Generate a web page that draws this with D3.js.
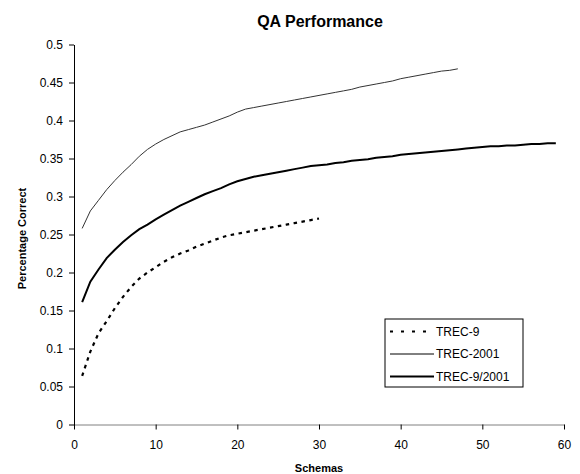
<!DOCTYPE html>
<html>
<head>
<meta charset="utf-8">
<script src="https://cdn.jsdelivr.net/npm/d3@7"></script>
<style>
  body { margin: 0; background: #fff; }
  svg { font-family: "Liberation Sans", Arial, sans-serif; }
  .tick text { font-size: 12px; fill: #000; }
</style>
</head>
<body>
<svg id="chart"></svg>
<script>
// values, one point per schema count (1..n)
const trec9 = [0.064, 0.096, 0.120, 0.136, 0.153, 0.168, 0.181, 0.192, 0.200, 0.207,
  0.214, 0.220, 0.225, 0.229, 0.234, 0.238, 0.242, 0.246, 0.249, 0.251,
  0.253, 0.255, 0.257, 0.259, 0.261, 0.263, 0.265, 0.267, 0.269, 0.271]

const trec2001 = [0.258, 0.281, 0.295, 0.309, 0.321, 0.332, 0.342, 0.353, 0.362, 0.369,
  0.375, 0.380, 0.385, 0.388, 0.391, 0.394, 0.398, 0.402, 0.406, 0.411,
  0.415, 0.417, 0.419, 0.421, 0.423, 0.425, 0.427, 0.429, 0.431, 0.433,
  0.435, 0.437, 0.439, 0.441, 0.444, 0.446, 0.448, 0.450, 0.452, 0.455,
  0.457, 0.459, 0.461, 0.463, 0.465, 0.466, 0.468]

const trec92001 = [0.161, 0.188, 0.204, 0.219, 0.230, 0.240, 0.249, 0.257, 0.263, 0.270,
  0.276, 0.282, 0.288, 0.293, 0.298, 0.303, 0.307, 0.311, 0.316, 0.320,
  0.323, 0.326, 0.328, 0.330, 0.332, 0.334, 0.336, 0.338, 0.340, 0.341,
  0.342, 0.344, 0.345, 0.347, 0.348, 0.349, 0.351, 0.352, 0.353, 0.355,
  0.356, 0.357, 0.358, 0.359, 0.360, 0.361, 0.362, 0.363, 0.364, 0.365,
  0.366, 0.366, 0.367, 0.367, 0.368, 0.369, 0.369, 0.370, 0.370]

const seriesNames = ['TREC-9', 'TREC-2001', 'TREC-9/2001']
const xTicks = [0, 10, 20, 30, 40, 50, 60]
const yTicks = [0, 0.05, 0.1, 0.15, 0.2, 0.25, 0.3, 0.35, 0.4, 0.45, 0.5]

const width = 580, height = 474
const margin = {top: 44.5, right: 16, bottom: 49.5, left: 74}
const w = width - margin.left - margin.right
const h = height - margin.top - margin.bottom

const svg = d3.select('#chart')
  .attr('width', width)
  .attr('height', height)

const g = svg.append('g')
  .attr('transform', `translate(${margin.left},${margin.top})`)

const x = d3.scaleLinear().domain([0, 60]).range([0, w])
const y = d3.scaleLinear().domain([0, 0.5]).range([h, 0])

// axes
const xAxisG = g.append('g')
  .attr('transform', `translate(0,${h})`)
  .call(d3.axisBottom(x).tickValues(xTicks).tickSize(5).tickSizeOuter(0).tickPadding(11))
xAxisG.select('.domain').attr('stroke', '#808080')
xAxisG.selectAll('.tick line').attr('stroke', '#000')

const yAxisG = g.append('g')
  .call(d3.axisLeft(y).tickValues(yTicks).tickSize(5).tickSizeOuter(0).tickPadding(6)
    .tickFormat(d => String(+d.toFixed(2))))
yAxisG.select('.domain').attr('stroke', '#000')

// lines
const line = d3.line()
  .x((d, i) => x(i + 1))
  .y(d => y(d))

const styles = [
  {data: trec9, width: 2.2, dash: '3.5,4.5', color: '#000'},
  {data: trec2001, width: 1, dash: null, color: '#333'},
  {data: trec92001, width: 2, dash: null, color: '#000'}
]

styles.forEach(s => {
  g.append('path')
    .datum(s.data)
    .attr('fill', 'none')
    .attr('stroke', s.color)
    .attr('stroke-width', s.width)
    .attr('stroke-dasharray', s.dash)
    .attr('d', line)
})

// titles
svg.append('text')
  .attr('x', 320)
  .attr('y', 27)
  .attr('text-anchor', 'middle')
  .style('font-size', '16px')
  .style('font-weight', 'bold')
  .text('QA Performance')

svg.append('text')
  .attr('x', margin.left + w / 2)
  .attr('y', 472)
  .attr('text-anchor', 'middle')
  .style('font-size', '11px')
  .style('font-weight', 'bold')
  .text('Schemas')

svg.append('text')
  .attr('transform', `translate(26,${margin.top + h / 2 + 4}) rotate(-90)`)
  .attr('text-anchor', 'middle')
  .style('font-size', '11px')
  .style('font-weight', 'bold')
  .text('Percentage Correct')

// legend
const legend = svg.append('g').attr('transform', 'translate(385,319)')
legend.append('rect')
  .attr('width', 138)
  .attr('height', 68)
  .attr('fill', '#fff')
  .attr('stroke', '#000')
  .attr('stroke-width', 1)

seriesNames.forEach((name, i) => {
  const yy = 12.5 + i * 22.5
  legend.append('line')
    .attr('x1', 5).attr('x2', 49)
    .attr('y1', yy).attr('y2', yy)
    .attr('stroke', '#000')
    .attr('stroke-width', styles[i].width)
    .attr('stroke-dasharray', i === 0 ? '3,8' : null)
  legend.append('text')
    .attr('x', 51)
    .attr('y', yy + 4)
    .style('font-size', '12px')
    .text(name)
})
</script>
</body>
</html>
